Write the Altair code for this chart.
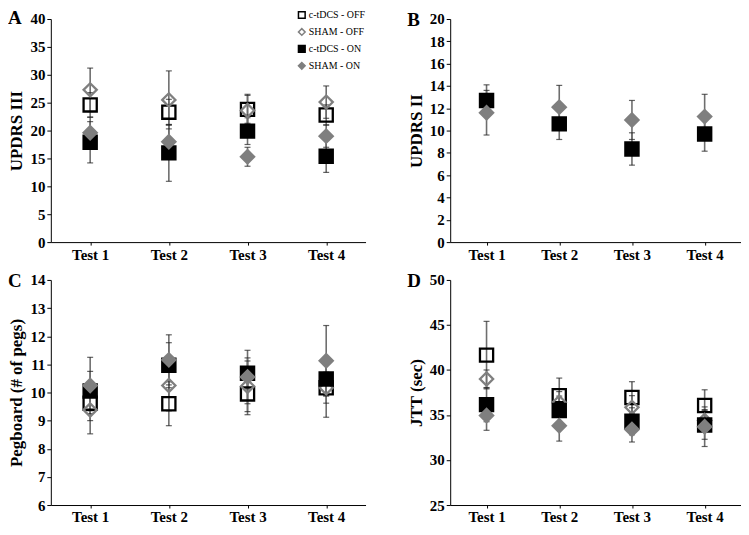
import altair as alt
import pandas as pd

tests = ["Test 1", "Test 2", "Test 3", "Test 4"]
series = ["c-tDCS - OFF", "SHAM - OFF", "c-tDCS - ON", "SHAM - ON"]

# Panel A: UPDRS III
a_c_off = [24.6, 23.3, 23.8, 22.8]
a_c_off_err = [2.2, 2.3, 2.5, 1.8]
a_sham_off = [27.3, 25.5, 23.6, 25.1]
a_sham_off_err = [3.9, 5.2, 2.9, 2.9]
a_c_on = [17.9, 16.0, 19.9, 15.4]
a_c_on_err = [3.7, 5.1, 2.4, 2.9]
a_sham_on = [19.6, 18.0, 15.3, 19.0]
a_sham_on_err = [2.8, 3.0, 1.7, 2.0]

# Panel B: UPDRS II
b_c_on = [12.7, 10.6, 8.35, 9.7]
b_c_on_err = [1.4, 1.4, 1.45, 1.55]
b_sham_on = [11.6, 12.1, 10.95, 11.25]
b_sham_on_err = [2.0, 1.95, 1.75, 2.0]

# Panel C: Pegboard
c_c_off = [9.62, 9.6, 9.95, 10.17]
c_c_off_err = [0.62, 0.78, 0.74, 1.05]
c_sham_off = [9.38, 10.25, 10.22, 10.17]
c_sham_off_err = [0.85, 0.9, 0.9, 0.55]
c_c_on = [10.05, 10.97, 10.68, 10.48]
c_c_on_err = [0.7, 0.8, 0.55, 0.6]
c_sham_on = [10.25, 11.16, 10.55, 11.13]
c_sham_on_err = [1.0, 0.89, 0.95, 1.25]

# Panel D: JTT
d_c_off = [41.65, 37.15, 36.95, 36.05]
d_c_off_err = [3.75, 1.95, 1.75, 1.75]
d_sham_off = [39.0, 36.4, 35.85, 34.4]
d_sham_off_err = [1.0, 1.2, 1.3, 1.2]
d_c_on = [36.15, 35.5, 34.3, 33.9]
d_c_on_err = [1.9, 1.6, 1.5, 1.6]
d_sham_on = [34.95, 33.8, 33.4, 33.7]
d_sham_on_err = [1.65, 1.7, 1.4, 2.2]

FONT = "Liberation Serif"


def make_df(pairs):
    rows = []
    for name, vals, errs in pairs:
        for t, v, e in zip(tests, vals, errs):
            rows.append({"test": t, "series": name, "value": v,
                         "lo": v - e, "hi": v + e})
    return pd.DataFrame(rows)


def panel(df, ydom, ystep, ytitle, letter, w, h, legend=False):
    base = alt.Chart(df)
    x = alt.X("test:N", sort=tests,
              scale=alt.Scale(type="point", padding=0.5),
              axis=alt.Axis(title=None, labelAngle=0, labelFont=FONT,
                            labelFontWeight="bold", labelFontSize=15,
                            labelColor="black", domainColor="black",
                            tickColor="black", tickSize=3, labelPadding=2))
    ys = alt.Scale(domain=ydom, nice=False, zero=False)
    ticks = []
    v = ydom[0]
    while v <= ydom[1] + 1e-9:
        ticks.append(round(v, 6))
        v += ystep
    yaxis = alt.Axis(title=ytitle, values=ticks, tickCount=len(ticks),
                     grid=False, labelFont=FONT,
                     labelFontWeight="bold", labelFontSize=15,
                     labelColor="black", labelOverlap=False, labelFlush=False,
                     titleFont=FONT,
                     titleFontWeight="bold", titleFontSize=17,
                     titleColor="black", domainColor="black",
                     tickColor="black", tickSize=4, titlePadding=4)
    rules = base.mark_rule(color="#6e6e6e", strokeWidth=1.6).encode(
        x=x, y=alt.Y("lo:Q", scale=ys, axis=yaxis, title=ytitle), y2="hi:Q")
    cap_lo = base.mark_tick(color="#222222", size=6, thickness=1.2).encode(
        x=x, y=alt.Y("lo:Q", scale=ys, axis=yaxis, title=ytitle))
    cap_hi = base.mark_tick(color="#222222", size=6, thickness=1.2).encode(
        x=x, y=alt.Y("hi:Q", scale=ys, axis=yaxis, title=ytitle))
    if legend:
        leg = alt.Legend(title=None, orient="none", legendX=247, legendY=-9,
                         labelFont=FONT, labelFontSize=10, labelColor="black",
                         symbolSize=45, symbolStrokeWidth=1.5, rowPadding=3,
                         labelOffset=2)
    else:
        leg = None
    pts = base.mark_point(size=175, strokeWidth=2.3, opacity=1).encode(
        x=x,
        y=alt.Y("value:Q", scale=ys, axis=yaxis, title=ytitle),
        shape=alt.Shape("series:N", sort=series,
                        scale=alt.Scale(domain=series,
                                        range=["square", "diamond", "square", "diamond"]),
                        legend=leg),
        stroke=alt.Stroke("series:N", sort=series,
                          scale=alt.Scale(domain=series,
                                          range=["#000000", "#7f7f7f", "#000000", "#7f7f7f"]),
                          legend=leg),
        fill=alt.Fill("series:N", sort=series,
                      scale=alt.Scale(domain=series,
                                      range=["transparent", "transparent", "#000000", "#7f7f7f"]),
                      legend=leg),
    )
    return alt.layer(rules, cap_lo, cap_hi, pts).properties(
        width=w, height=h,
        title=alt.TitleParams(letter, anchor="start", frame="bounds",
                              font=FONT, fontSize=19, fontWeight="bold",
                              color="black", offset=-18),
    )


dfA = make_df([
    (series[0], a_c_off, a_c_off_err),
    (series[1], a_sham_off, a_sham_off_err),
    (series[2], a_c_on, a_c_on_err),
    (series[3], a_sham_on, a_sham_on_err),
])
dfB = make_df([
    (series[2], b_c_on, b_c_on_err),
    (series[3], b_sham_on, b_sham_on_err),
])
dfC = make_df([
    (series[0], c_c_off, c_c_off_err),
    (series[1], c_sham_off, c_sham_off_err),
    (series[2], c_c_on, c_c_on_err),
    (series[3], c_sham_on, c_sham_on_err),
])
dfD = make_df([
    (series[0], d_c_off, d_c_off_err),
    (series[1], d_sham_off, d_sham_off_err),
    (series[2], d_c_on, d_c_on_err),
    (series[3], d_sham_on, d_sham_on_err),
])

pA = panel(dfA, [0, 40], 5, "UPDRS III", "A", 316, 224, legend=True)
pB = panel(dfB, [0, 20], 2, "UPDRS II", "B", 292, 224)
pC = panel(dfC, [6, 14], 1, "Pegboard (# of pegs)", "C", 316, 226)
pD = panel(dfD, [25, 50], 5, "JTT (sec)", "D", 292, 226)

res = dict(shape="independent", stroke="independent", fill="independent")
chart = alt.vconcat(
    alt.hconcat(pA, pB, spacing=42).resolve_scale(**res),
    alt.hconcat(pC, pD, spacing=42).resolve_scale(**res),
    spacing=10,
).resolve_scale(**res).properties(
    padding={"left": 0, "top": 0, "right": 0, "bottom": 0},
    background="white",
).configure_view(stroke=None)

chart.save("out.html", embed_options={"renderer": "svg", "actions": False})
